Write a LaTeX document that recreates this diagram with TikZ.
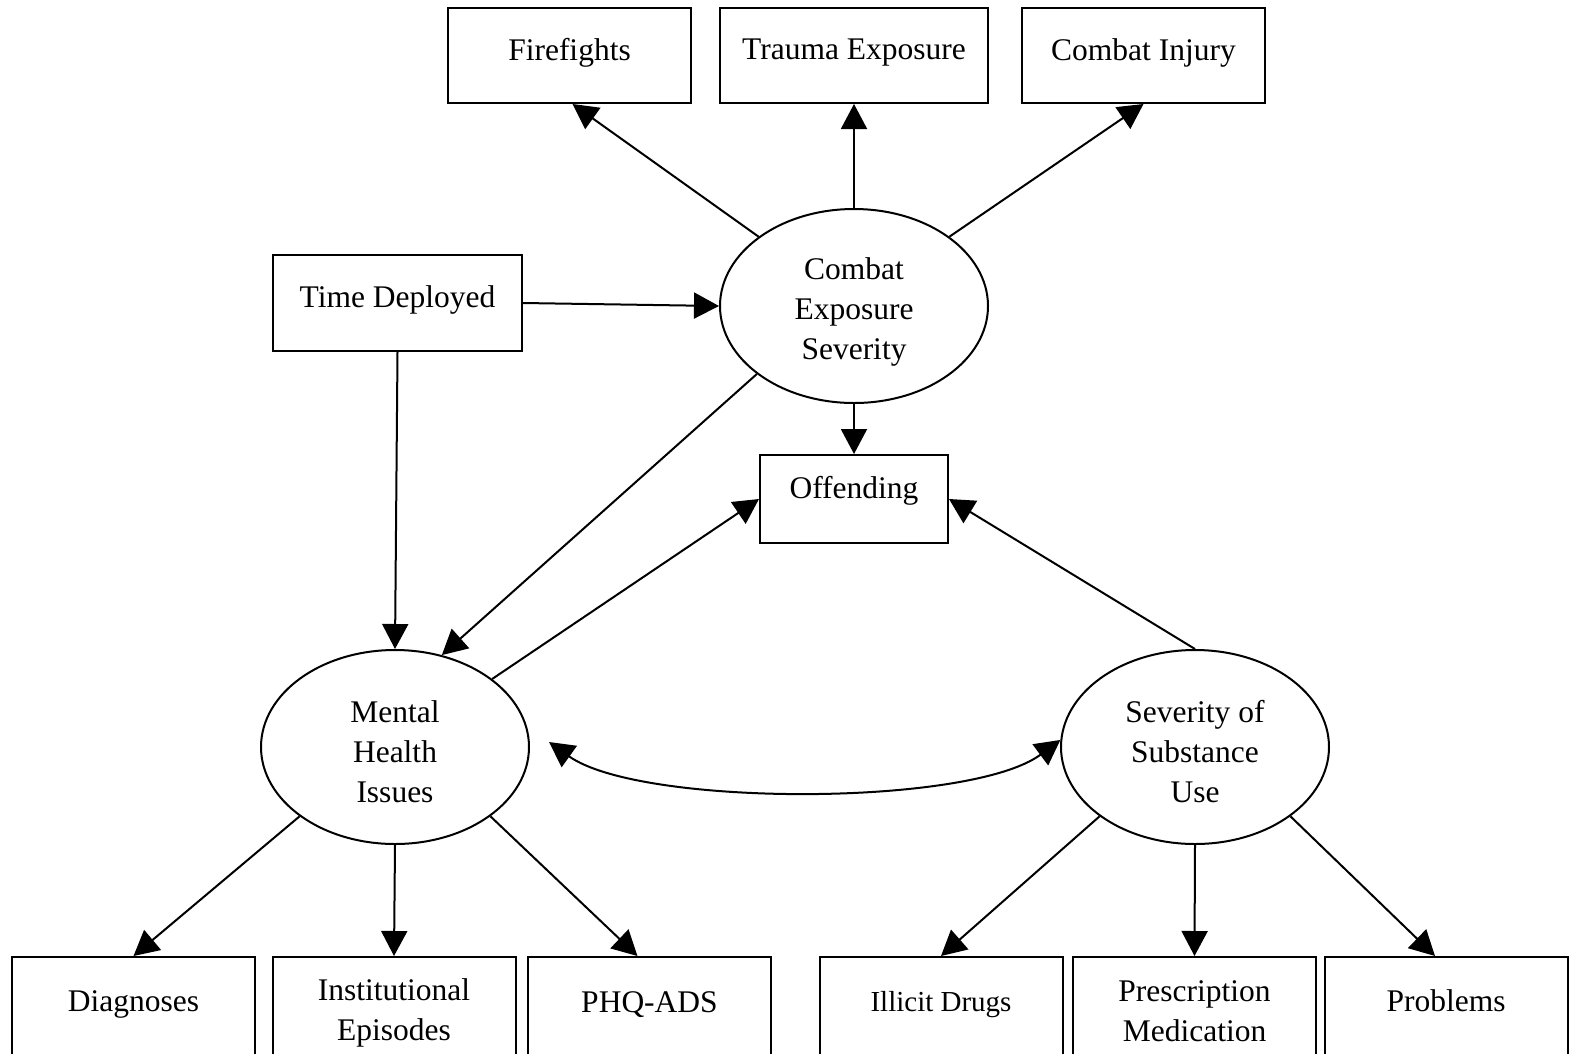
\documentclass[tikz,border=0pt]{standalone}
\usepackage{fontspec}
\setmainfont{Liberation Serif}
\usetikzlibrary{shapes.geometric,arrows.meta}

\tikzset{
  every node/.style={font=\fontsize{31.5}{40}\selectfont},
  box/.style={draw, line width=2pt, rectangle, inner sep=0pt, minimum width=243pt, minimum height=95pt},
  lowbox/.style={box, minimum height=101pt},
  latent/.style={draw, line width=2pt, ellipse, inner sep=0pt, minimum width=268pt, minimum height=194pt},
  txt/.style={yshift=3pt, align=center},
  edge/.style={line width=2pt, -{Triangle[length=25pt,width=26pt]}},
  twoway/.style={line width=2pt, {Triangle[length=25pt,width=26pt]}-{Triangle[length=25pt,width=26pt]}}
}

\begin{document}
\begin{tikzpicture}[x=1pt, y=-1pt]
\useasboundingbox (0,0) rectangle (1572,1053);
\clip (0,0) rectangle (1572,1053);

% indicator boxes of combat exposure
\node[box, label={[txt]center:Firefights}] (ff) at (569.5,55.5) {};
\node[box, minimum width=268pt, label={[txt]center:Trauma Exposure}] (te) at (854,55.5) {};
\node[box, label={[txt]center:Combat Injury}] (ci) at (1143.5,55.5) {};

% exogenous variable and outcome
\node[box, minimum width=249pt, minimum height=96pt, label={[txt]center:Time Deployed}] (td) at (397.5,303) {};
\node[box, minimum width=188pt, minimum height=88pt, label={[txt, yshift=5pt]center:Offending}] (off) at (854,499) {};

% latent constructs
\node[latent, label={[txt, yshift=-9pt]center:Combat\\Exposure\\Severity}] (ces) at (854,306) {};
\node[latent, label={[txt, yshift=-8pt]center:Mental\\Health\\Issues}] (mhi) at (395,747) {};
\node[latent, label={[txt, yshift=-8pt]center:Severity of\\Substance\\Use}] (ssu) at (1195,747) {};

% indicator boxes of the two lower constructs
\node[lowbox, label={[txt, yshift=0pt]center:Diagnoses}] (dg) at (133.5,1007.5) {};
\node[lowbox, label={[txt, yshift=-8pt]center:Institutional\\Episodes}] (ie) at (394,1007.5) {};
\node[lowbox, label={[txt, yshift=0pt]center:PHQ-ADS}] (phq) at (649.5,1007.5) {};
\node[lowbox, label={[txt, yshift=0pt, font=\fontsize{29}{38}\selectfont]center:Illicit Drugs}] (id) at (941,1007.5) {};
\node[lowbox, label={[txt, yshift=-7pt]center:Prescription\\Medication}] (pm) at (1194.5,1007.5) {};
\node[lowbox, label={[txt, yshift=4pt]center:Problems}] (pr) at (1446,1007.5) {};

% paths from combat exposure
\draw[edge] (ces.144) -- ([xshift=3pt]ff.south);
\draw[edge] (ces.north) -- (te.south);
\draw[edge] (ces.36) -- (ci.south);
\draw[edge] (td.east) -- (ces.west);
\draw[edge] (td.south) -- (mhi.north);
\draw[edge] (ces.south) -- (off.north);
\draw[edge] (ces.215) -- (mhi.63);

% paths into offending
\draw[edge] (mhi.35) -- (off.west);
\draw[edge] (ssu.north) -- (off.east);

% correlation between the lower constructs
\draw[twoway] ([xshift=19pt,yshift=5pt]mhi.east) .. controls (640,807) and (970,807) .. (ssu.177);

% measurement paths
\draw[edge] (mhi.216) -- (dg.north);
\draw[edge] (mhi.south) -- (ie.north);
\draw[edge] (mhi.324) -- ([xshift=-12pt]phq.north);
\draw[edge] (ssu.216) -- (id.north);
\draw[edge] (ssu.south) -- (pm.north);
\draw[edge] (ssu.324) -- ([xshift=-11pt]pr.north);
\end{tikzpicture}
\end{document}
